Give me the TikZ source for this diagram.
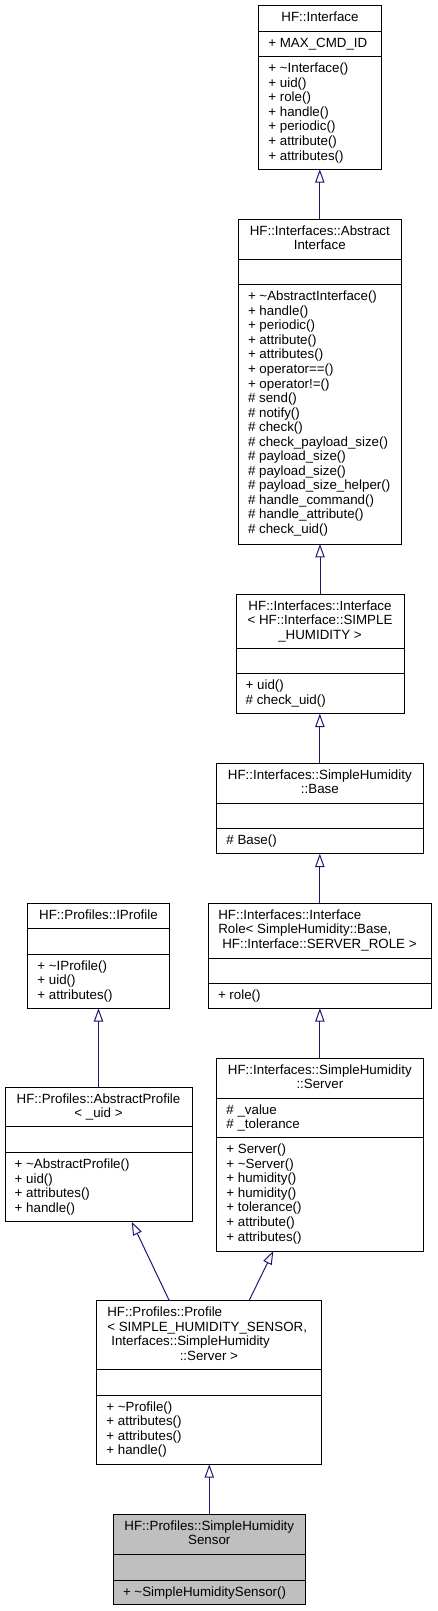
\documentclass[tikz,border=0pt]{standalone}
\usepackage{fontspec}
\setmainfont{Liberation Sans}
\usetikzlibrary{arrows.meta,calc}
\definecolor{edgeblue}{HTML}{191970}
\definecolor{greyfill}{HTML}{BFBFBF}
\tikzset{
  classbox/.style={draw=black, line width=0.75pt, inner sep=0pt, outer sep=0pt, anchor=north west},
  sepline/.style={draw=black, line width=0.75pt},
  txt/.style={inner sep=0pt, outer sep=0pt, font=\fontsize{10}{12}\selectfont},
  inherit/.style={draw=edgeblue, line width=0.75pt, -{Triangle[open,length=10pt,width=7pt]}},
}
\newcommand{\ClassBox}[6]{%
  \node[classbox, fill=#6, minimum width={(#4-#2)*0.75pt}, minimum height={(#5-#3)*0.75pt}] (#1) at (#2,#3) {};}
\newcommand{\SepLine}[2]{\draw[sepline] (#1.west |- 0,#2) -- (#1.east |- 0,#2);}
\newcommand{\TextLines}[5]{%
  \foreach \t [count=\i from 0] in {#5} {\node[txt, anchor=#4] (#1-\i) at (#2, #3+\i*14.55) {\t};}}
\begin{document}
\begin{tikzpicture}[x=0.75pt,y=-0.75pt]
\useasboundingbox (0,0) rectangle (437,1611);

% HF::Interface
\ClassBox{iface}{258.7}{5.7}{381.3}{169.3}{white}
\SepLine{iface}{31}\SepLine{iface}{56.7}
\TextLines{ifaceN}{320}{21.7}{base}{HF::Interface}
\TextLines{ifaceA}{268.4}{47}{base west}{+ MAX\_CMD\_ID}
\TextLines{ifaceM}{268.4}{72.7}{base west}{+ \textasciitilde Interface(), + uid(), + role(), + handle(), + periodic(), + attribute(), + attributes()}

% AbstractInterface
\ClassBox{absiface}{238.3}{219.3}{401.3}{544}{white}
\SepLine{absiface}{259.3}\SepLine{absiface}{284.7}
\TextLines{absifaceN}{319.8}{235.3}{base}{HF::Interfaces::Abstract, Interface}
\TextLines{absifaceM}{248}{300.7}{base west}{+ \textasciitilde AbstractInterface(), + handle(), + periodic(), + attribute(), + attributes(), + operator==(), + operator!=(), \# send(), \# notify(), \# check(), \# check\_payload\_size(), \# payload\_size(), \# payload\_size(), \# payload\_size\_helper(), \# handle\_command(), \# handle\_attribute(), \# check\_uid()}

% Interface< SIMPLE_HUMIDITY >
\ClassBox{ifacet}{236}{594}{404}{713.7}{white}
\SepLine{ifacet}{648.3}\SepLine{ifacet}{673.7}
\TextLines{ifacetN}{320}{610}{base}{HF::Interfaces::Interface, < HF::Interface::SIMPLE, \_HUMIDITY >}
\TextLines{ifacetM}{245.7}{689.7}{base west}{+ uid(), \# check\_uid()}

% SimpleHumidity::Base
\ClassBox{base}{216.7}{763.3}{423}{853.7}{white}
\SepLine{base}{803}\SepLine{base}{828.7}
\TextLines{baseN}{319.85}{779.3}{base}{HF::Interfaces::SimpleHumidity, ::Base}
\TextLines{baseM}{226.4}{844.7}{base west}{\# Base()}

% InterfaceRole
\ClassBox{role}{208.3}{903.3}{431.3}{1008.3}{white}
\SepLine{role}{958.3}\SepLine{role}{983.3}
\TextLines{roleN}{218.3}{919.3}{base west}{HF::Interfaces::Interface, {Role< SimpleHumidity::Base,}}
\node[txt, anchor=base west] (roleN-2) at (222.3, 948.4) {HF::Interface::SERVER\_ROLE >};
\TextLines{roleM}{218}{999.3}{base west}{+ role()}

% SimpleHumidity::Server
\ClassBox{server}{216.7}{1058.3}{423}{1251}{white}
\SepLine{server}{1098.3}\SepLine{server}{1137.7}
\TextLines{serverN}{319.85}{1074.3}{base}{HF::Interfaces::SimpleHumidity, ::Server}
\TextLines{serverA}{226.4}{1114.3}{base west}{\# \_value, \# \_tolerance}
\TextLines{serverM}{226.4}{1153.7}{base west}{+ Server(), + \textasciitilde Server(), + humidity(), + humidity(), + tolerance(), + attribute(), + attributes()}

% IProfile
\ClassBox{iprofile}{27.7}{903.3}{169.3}{1008.3}{white}
\SepLine{iprofile}{928.7}\SepLine{iprofile}{954}
\TextLines{iprofileN}{98.5}{919.3}{base}{HF::Profiles::IProfile}
\TextLines{iprofileM}{37.4}{970}{base west}{+ \textasciitilde IProfile(), + uid(), + attributes()}

% AbstractProfile
\ClassBox{absprofile}{5}{1087.3}{192}{1221.7}{white}
\SepLine{absprofile}{1126.7}\SepLine{absprofile}{1152.7}
\TextLines{absprofileN}{98.5}{1103.3}{base}{HF::Profiles::AbstractProfile, < \_uid >}
\TextLines{absprofileM}{14.7}{1168.7}{base west}{+ \textasciitilde AbstractProfile(), + uid(), + attributes(), + handle()}

% Profile
\ClassBox{profile}{96.7}{1300.7}{321}{1464.3}{white}
\SepLine{profile}{1369.3}\SepLine{profile}{1395}
\TextLines{profileN}{107.3}{1316.7}{base west}{HF::Profiles::Profile, {< SIMPLE\_HUMIDITY\_SENSOR,}}
\node[txt, anchor=base west] (profileN-2) at (111.3, 1345.8) {Interfaces::SimpleHumidity};
\node[txt, anchor=base] (profileN-3) at (208.85, 1360.35) {::Server >};
\TextLines{profileM}{106.4}{1411}{base west}{+ \textasciitilde Profile(), + attributes(), + attributes(), + handle()}

% SimpleHumiditySensor
\ClassBox{shs}{113.3}{1514}{305.3}{1604}{greyfill}
\SepLine{shs}{1554}\SepLine{shs}{1580}
\TextLines{shsN}{209.3}{1530}{base}{HF::Profiles::SimpleHumidity, Sensor}
\TextLines{shsM}{123}{1596}{base west}{+ \textasciitilde SimpleHumiditySensor()}

% inheritance edges
\draw[inherit] (absiface.north) -- (absiface.north |- iface.south);
\draw[inherit] (ifacet.north) -- (ifacet.north |- absiface.south);
\draw[inherit] (base.north) -- (base.north |- ifacet.south);
\draw[inherit] (role.north) -- (role.north |- base.south);
\draw[inherit] (server.north) -- (server.north |- role.south);
\draw[inherit] (absprofile.north) -- (absprofile.north |- iprofile.south);
\draw[inherit] ($(profile.north west)!0.3237!(profile.north east)$) -- ($(absprofile.south west)!0.6775!(absprofile.south east)$);
\draw[inherit] ($(profile.north west)!0.679!(profile.north east)$) -- ($(server.south west)!0.2744!(server.south east)$);
\draw[inherit] (shs.north) -- (shs.north |- profile.south);
\end{tikzpicture}
\end{document}
